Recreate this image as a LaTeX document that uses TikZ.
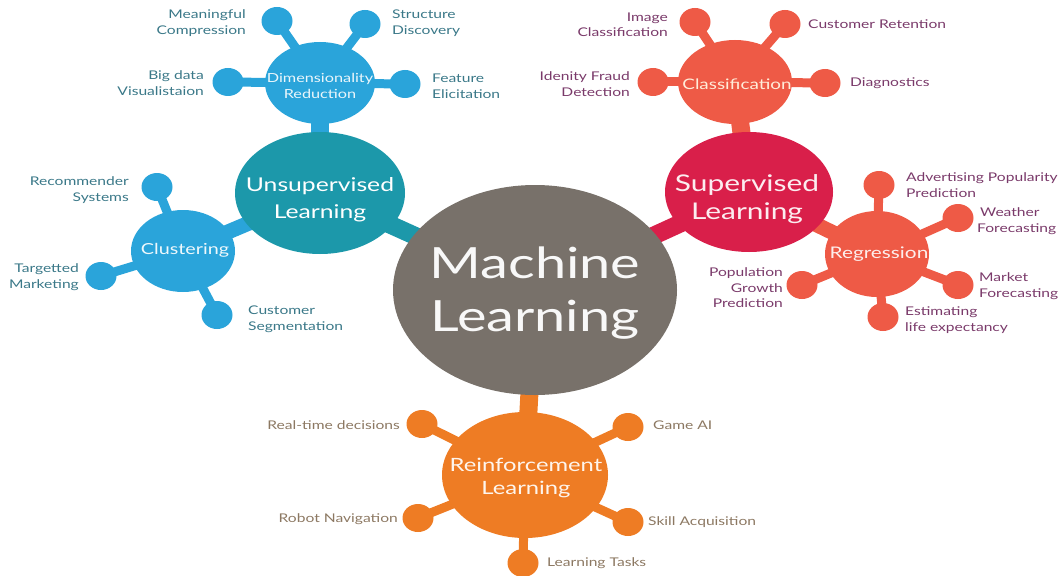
\documentclass[tikz,border=0pt]{standalone}
\usepackage{fontspec}
\setmainfont{Lato}[FakeStretch=1.3]
\usetikzlibrary{shapes.geometric}
\definecolor{teal1}{HTML}{1C98AA}
\definecolor{blue1}{HTML}{2AA4DA}
\definecolor{gray1}{HTML}{78716A}
\definecolor{crim1}{HTML}{D91F4A}
\definecolor{coral1}{HTML}{EE5A46}
\definecolor{orng1}{HTML}{EE7C24}
\definecolor{bluetxt}{HTML}{3A7888}
\definecolor{redtxt}{HTML}{7A3A6A}
\definecolor{orgtxt}{HTML}{8C7862}
\begin{document}
\begin{tikzpicture}[x=1pt,y=-1pt,
  hub/.style={ellipse, inner sep=0pt, align=center, text=white},
  sat/.style={ellipse, minimum width=31pt, minimum height=28pt, inner sep=0pt},
  lbl/.style={font=\fontsize{12}{15.5}\selectfont, inner sep=0pt},
  thin stem/.style={line width=9pt},
  thick stem/.style={line width=18pt}]
\useasboundingbox (0,0) rectangle (1064,575);
% hubs
\node[hub, minimum width=284pt, minimum height=210pt] (ml) at (535,290) {};
\node[hub, minimum width=170pt, minimum height=122pt] (uns) at (320,193) {};
\node[hub, minimum width=110pt, minimum height=82pt] (dim) at (320,83) {};
\node[hub, minimum width=104pt, minimum height=82pt] (clu) at (183,251) {};
\node[hub, minimum width=168pt, minimum height=120pt] (sup) at (749,192) {};
\node[hub, minimum width=114pt, minimum height=84pt] (cls) at (735,82) {};
\node[hub, minimum width=104pt, minimum height=86pt] (reg) at (877,254) {};
\node[hub, minimum width=166pt, minimum height=126pt] (rei) at (525,475) {};
% satellites
\node[sat] (mc) at (277,21) {};
\node[sat] (sd) at (365,24) {};
\node[sat] (bd) at (228,82) {};
\node[sat] (fe) at (405,84) {};
\node[sat] (rs) at (157,187) {};
\node[sat] (tm) at (101,276) {};
\node[sat] (cs) at (217,315) {};
\node[sat] (ic) at (695,22) {};
\node[sat] (cr) at (785,24) {};
\node[sat] (ifd) at (653,82) {};
\node[sat] (dg) at (825,83) {};
\node[sat] (ap) at (879,185) {};
\node[sat] (wf) at (958,218) {};
\node[sat] (mf) at (958,285) {};
\node[sat] (le) at (883,317) {};
\node[sat] (pg) at (802,285) {};
\node[sat] (rt) at (422,424) {};
\node[sat] (ga) at (628,427) {};
\node[sat] (rn) at (418,518) {};
\node[sat] (sa) at (628,522) {};
\node[sat] (lt) at (523,563) {};
% stems
\draw[thick stem, teal1] (uns.center) -- (ml.center);
\draw[thick stem, blue1] (dim.center) -- (uns.center);
\draw[thick stem, blue1, line width=15pt] (clu.center) -- (uns.center);
\draw[thick stem, crim1] (sup.center) -- (ml.center);
\draw[thick stem, coral1] (cls.center) -- (sup.center);
\draw[thick stem, coral1, line width=15pt] (reg.center) -- (sup.center);
\draw[thick stem, orng1] (rei.center) -- (ml.center);
\foreach \s in {mc,sd,bd,fe} \draw[thin stem, blue1] (dim.center) -- (\s.center);
\foreach \s in {rs,tm,cs} \draw[thin stem, blue1] (clu.center) -- (\s.center);
\foreach \s in {ic,cr,ifd,dg} \draw[thin stem, coral1] (cls.center) -- (\s.center);
\foreach \s in {ap,wf,mf,le,pg} \draw[thin stem, coral1] (reg.center) -- (\s.center);
\foreach \s in {rt,ga,rn,sa,lt} \draw[thin stem, orng1] (rei.center) -- (\s.center);
% fills
\foreach \s in {mc,sd,bd,fe,rs,tm,cs} \fill[blue1] (\s.center) ellipse (15.5pt and 14pt);
\foreach \s in {ic,cr,ifd,dg,ap,wf,mf,le,pg} \fill[coral1] (\s.center) ellipse (15.5pt and 14pt);
\foreach \s in {rt,ga,rn,sa,lt} \fill[orng1] (\s.center) ellipse (15.5pt and 14pt);
\fill[gray1] (ml.center) ellipse (142pt and 105pt);
\fill[teal1] (uns.center) ellipse (85pt and 61pt);
\fill[blue1] (dim.center) ellipse (55pt and 41pt);
\fill[blue1] (clu.center) ellipse (52pt and 41pt);
\fill[crim1] (sup.center) ellipse (84pt and 60pt);
\fill[coral1] (cls.center) ellipse (57pt and 42pt);
\fill[coral1] (reg.center) ellipse (52pt and 43pt);
\fill[orng1] (rei.center) ellipse (83pt and 63pt);
% hub texts
\node[text=white!95!gray1, align=center, font=\fontsize{43}{53}\selectfont] (mlt) at (535,293) {Machine\\Learning};
\node[text=white, align=center, font=\fontsize{19}{27}\selectfont] (unst) at (320,200) {Unsupervised\\Learning};
\node[text=white!90!blue1, align=center, font=\fontsize{12.5}{15.5}\selectfont] (dimt) at (320,86) {Dimensionality\\Reduction};
\node[text=white!92!blue1, font=\fontsize{15.2}{18}\selectfont] (clut) at (185,250) {Clustering};
\node[text=white!92!crim1, align=center, font=\fontsize{23}{28}\selectfont] (supt) at (747,199) {Supervised\\Learning};
\node[text=white!85!orange, font=\fontsize{14.5}{17}\selectfont] (clst) at (737,84) {Classification};
\node[text=white!90!coral1, font=\fontsize{16}{18}\selectfont] (regt) at (879,254) {Regression};
\node[text=white!92!orng1, align=center, font=\fontsize{18.3}{23}\selectfont] (reit) at (526,478) {Reinforcement\\Learning};
% labels
\begin{scope}[every node/.style={lbl, text=bluetxt}]
\node[anchor=east, align=right] (l1) at (246,23) {Meaningful\\Compression};
\node[anchor=west, align=left] (l2) at (392,23) {Structure\\Discovery};
\node[anchor=east, align=right] (l3) at (204,83) {Big data\\Visualistaion};
\node[anchor=west, align=left] (l4) at (432,86) {Feature\\Elicitation};
\node[anchor=east, align=right] (l5) at (129,190) {Recommender\\Systems};
\node[anchor=east, align=right] (l6) at (79,277) {Targetted\\Marketing};
\node[anchor=west, align=left] (l7) at (248,319) {Customer\\Segmentation};
\end{scope}
\begin{scope}[every node/.style={lbl, text=redtxt}]
\node[anchor=east, align=right] (l8) at (668,25) {Image\\Classification};
\node[anchor=west] (l9) at (808,24) {Customer Retention};
\node[anchor=east, align=right] (l10) at (630,84) {Idenity Fraud\\Detection};
\node[anchor=west] (l11) at (850,83) {Diagnostics};
\node[anchor=west, align=left] (l12) at (906,185) {Advertising Popularity\\Prediction};
\node[anchor=west, align=left] (l13) at (977,221) {\hspace*{3pt}Weather\\Forecasting};
\node[anchor=west, align=left] (l14) at (979,286) {Market\\Forecasting};
\node[anchor=west, align=left] (l15) at (905,320) {Estimating\\life expectancy};
\node[anchor=east, align=right] (l16) at (783,288) {Population\\Growth\\Prediction};
\end{scope}
\begin{scope}[every node/.style={lbl, text=orgtxt}]
\node[anchor=east] (l17) at (400,425) {Real-time decisions};
\node[anchor=west] (l18) at (653,425) {Game AI};
\node[anchor=east] (l19) at (398,519) {Robot Navigation};
\node[anchor=west] (l20) at (648,522) {Skill Acquisition};
\node[anchor=west] (l21) at (547,563) {Learning Tasks};
\end{scope}
\end{tikzpicture}
\end{document}
